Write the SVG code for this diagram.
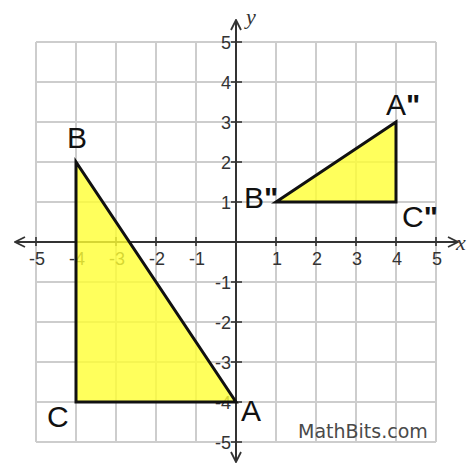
<svg xmlns="http://www.w3.org/2000/svg" width="471" height="465" viewBox="0 0 471 465">
<defs>
<marker id="arr" viewBox="0 0 12 12" refX="11" refY="6" markerWidth="12" markerHeight="12" markerUnits="userSpaceOnUse" orient="auto-start-reverse">
<path d="M1,1 L11,6 L1,11" fill="none" stroke="#333" stroke-width="1.8"/>
</marker>
</defs>
<style>
.grid line{stroke:#cdcdcd;stroke-width:2}
.axis{stroke:#333;stroke-width:2;fill:none}
.tick{stroke:#333;stroke-width:1.6}
.num{font-family:"Liberation Sans",Arial,sans-serif;font-size:18px;fill:#333}
.xn{text-anchor:middle}
.yn{text-anchor:end}
.tri{fill:#ffff33;fill-opacity:0.8;stroke:#111;stroke-width:3;stroke-linejoin:miter}
.lbl{font-family:"Liberation Sans",Arial,sans-serif;font-size:30px;fill:#111}
.q{font-weight:bold}
.var{font-family:"Liberation Serif","Times New Roman",serif;font-style:italic;font-size:22px;fill:#333}
.brand{font-family:"DejaVu Sans",Verdana,sans-serif;font-size:19px;fill:#4a4a4a}
</style>
<rect width="471" height="465" fill="#fff"/>
<g id="grid" class="grid">
<line x1="36" y1="42" x2="36" y2="442"/>
<line x1="76" y1="42" x2="76" y2="442"/>
<line x1="116" y1="42" x2="116" y2="442"/>
<line x1="156" y1="42" x2="156" y2="442"/>
<line x1="196" y1="42" x2="196" y2="442"/>
<line x1="276" y1="42" x2="276" y2="442"/>
<line x1="316" y1="42" x2="316" y2="442"/>
<line x1="356" y1="42" x2="356" y2="442"/>
<line x1="396" y1="42" x2="396" y2="442"/>
<line x1="436" y1="42" x2="436" y2="442"/>
<line x1="36" y1="42" x2="436" y2="42"/>
<line x1="36" y1="82" x2="436" y2="82"/>
<line x1="36" y1="122" x2="436" y2="122"/>
<line x1="36" y1="162" x2="436" y2="162"/>
<line x1="36" y1="202" x2="436" y2="202"/>
<line x1="36" y1="282" x2="436" y2="282"/>
<line x1="36" y1="322" x2="436" y2="322"/>
<line x1="36" y1="362" x2="436" y2="362"/>
<line x1="36" y1="402" x2="436" y2="402"/>
<line x1="36" y1="442" x2="436" y2="442"/>
</g>
<g id="axes">
<line class="axis" x1="15" y1="242" x2="458" y2="242" marker-start="url(#arr)" marker-end="url(#arr)"/>
<line class="axis" x1="236" y1="462" x2="236" y2="20" marker-start="url(#arr)" marker-end="url(#arr)"/>
<g class="tick">
<line x1="36" y1="237" x2="36" y2="246"/><line x1="76" y1="237" x2="76" y2="246"/><line x1="116" y1="237" x2="116" y2="246"/><line x1="156" y1="237" x2="156" y2="246"/><line x1="196" y1="237" x2="196" y2="246"/>
<line x1="276" y1="237" x2="276" y2="246"/><line x1="316" y1="237" x2="316" y2="246"/><line x1="356" y1="237" x2="356" y2="246"/><line x1="396" y1="237" x2="396" y2="246"/><line x1="436" y1="237" x2="436" y2="246"/>
<line x1="231" y1="42" x2="242" y2="42"/><line x1="231" y1="82" x2="242" y2="82"/><line x1="231" y1="122" x2="242" y2="122"/><line x1="231" y1="162" x2="242" y2="162"/><line x1="231" y1="202" x2="242" y2="202"/>
<line x1="231" y1="282" x2="242" y2="282"/><line x1="231" y1="322" x2="242" y2="322"/><line x1="231" y1="362" x2="242" y2="362"/><line x1="231" y1="402" x2="242" y2="402"/><line x1="231" y1="442" x2="242" y2="442"/>
</g>
<text class="var" x="456" y="250">x</text>
<text class="var" x="246" y="24">y</text>
</g>
<g id="xnums" class="num xn">
<text x="37" y="265">-5</text><text x="77" y="265">-4</text><text x="117" y="265">-3</text><text x="157" y="265">-2</text><text x="197" y="265">-1</text>
<text x="277" y="265">1</text><text x="317" y="265">2</text><text x="357" y="265">3</text><text x="397" y="265">4</text><text x="437" y="265">5</text>
</g>
<g id="ynums" class="num yn">
<text x="231" y="49">5</text><text x="231" y="89">4</text><text x="231" y="129">3</text><text x="231" y="169">2</text><text x="231" y="209">1</text>
<text x="231" y="289">-1</text><text x="231" y="329">-2</text><text x="231" y="369">-3</text><text x="231" y="409">-4</text><text x="231" y="449">-5</text>
</g>
<g id="triangle-ABC">
<polygon class="tri" points="76,162 76,402 236,402"/>
<text class="lbl" x="67" y="148">B</text>
<text class="lbl" x="47" y="427">C</text>
<text class="lbl" x="241" y="421">A</text>
</g>
<g id="triangle-A2B2C2">
<polygon class="tri" points="396,122 276,202 396,202"/>
<text class="lbl" x="386" y="115">A<tspan class="q">"</tspan></text>
<text class="lbl" x="244" y="208">B<tspan class="q">"</tspan></text>
<text class="lbl" x="402" y="227">C<tspan class="q">"</tspan></text>
</g>
<text class="brand" x="298" y="438">MathBits.com</text>
</svg>
